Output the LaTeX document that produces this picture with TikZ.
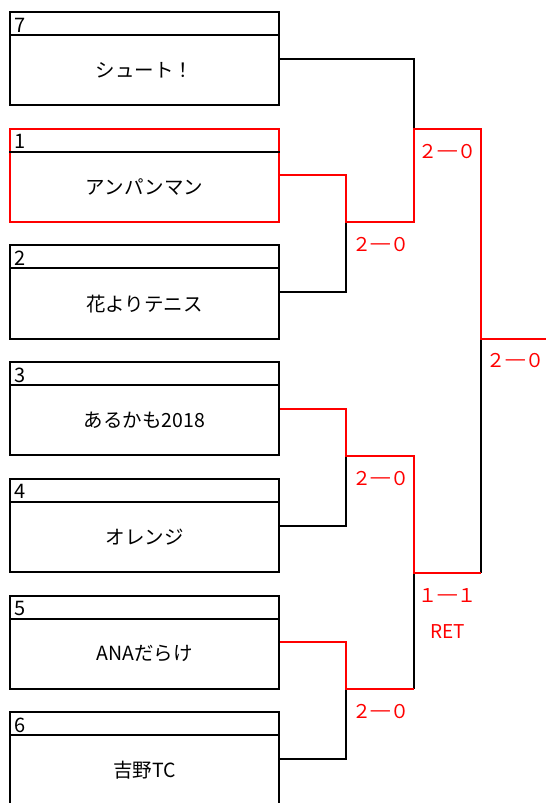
\documentclass[tikz,border=0pt]{standalone}
\usepackage{fontspec}
\setmainfont{Noto Sans CJK JP}
\usepackage{color}
\newcommand\scoredash{\kern-3.5pt\scalebox{1.4}[1]{－}\kern-3.5pt}

\begin{document}
\begin{tikzpicture}[x=1pt, y=-1pt, line width=2pt,
  team/.style={rectangle, draw, minimum width=269pt, minimum height=93.3pt, inner sep=0pt},
  seed/.style={anchor=west, inner sep=0pt, font=\fontsize{20}{20}\selectfont},
  club/.style={inner sep=0pt, font=\fontsize{19.5}{19.5}\selectfont},
  score/.style={inner sep=0pt, text=red, font=\fontsize{19}{19}\selectfont}]

\useasboundingbox (0,0) rectangle (546,803);
\clip (0,0) rectangle (546,803);

\node (t7) at (144.5,58.7) [team] {};
\node (t1) at (144.5,175.4) [team, draw=red] {};
\node (t2) at (144.5,292.1) [team] {};
\node (t3) at (144.5,408.8) [team] {};
\node (t4) at (144.5,525.5) [team] {};
\node (t5) at (144.5,642.2) [team] {};
\node (t6) at (144.5,758.9) [team] {};

\draw ([yshift=-24pt]t7.north west) -- ([yshift=-24pt]t7.north east);
\draw ([yshift=-24pt]t1.north west) -- ([yshift=-24pt]t1.north east);
\draw ([yshift=-24pt]t2.north west) -- ([yshift=-24pt]t2.north east);
\draw ([yshift=-24pt]t3.north west) -- ([yshift=-24pt]t3.north east);
\draw ([yshift=-24pt]t4.north west) -- ([yshift=-24pt]t4.north east);
\draw ([yshift=-24pt]t5.north west) -- ([yshift=-24pt]t5.north east);
\draw ([yshift=-24pt]t6.north west) -- ([yshift=-24pt]t6.north east);

\node (n7) at ([xshift=4.5pt,yshift=-14pt]t7.north west) [seed] {7};
\node (n1) at ([xshift=4.5pt,yshift=-14pt]t1.north west) [seed] {1};
\node (n2) at ([xshift=4.5pt,yshift=-14pt]t2.north west) [seed] {2};
\node (n3) at ([xshift=4.5pt,yshift=-14pt]t3.north west) [seed] {3};
\node (n4) at ([xshift=4.5pt,yshift=-14pt]t4.north west) [seed] {4};
\node (n5) at ([xshift=4.5pt,yshift=-14pt]t5.north west) [seed] {5};
\node (n6) at ([xshift=4.5pt,yshift=-14pt]t6.north west) [seed] {6};

\node (c7) at ([yshift=-11.5pt]t7.center) [club] {シュート！};
\node (c1) at ([yshift=-11.5pt]t1.center) [club] {アンパンマン};
\node (c2) at ([yshift=-11.5pt]t2.center) [club] {花よりテニス};
\node (c3) at ([yshift=-11.5pt]t3.center) [club] {あるかも2018};
\node (c4) at ([yshift=-11.5pt]t4.center) [club] {オレンジ};
\node (c5) at ([yshift=-11.5pt]t5.center) [club] {ANAだらけ};
\node (c6) at ([yshift=-11.5pt]t6.center) [club] {吉野TC};

\coordinate (q12) at (346,222);
\coordinate (q34) at (346,455.7);
\coordinate (q56) at (346,689);
\coordinate (sA) at (414,128.7);
\coordinate (sB) at (414,572.7);
\coordinate (fin) at (481,339);
\coordinate (win) at (546,339);

\draw (t2.east) -| (q12);
\draw (t7.east) -| (sA);
\draw (t4.east) -| (q34);
\draw (fin |- sB) -- (fin);
\draw (sB |- q56) -- (sB);
\draw (t6.east) -| (q56);

\draw[red] (t1.east) -| (q12) -- (sA |- q12) -- (sA) -- (fin |- sA) -- (fin) -- (win);
\draw[red] (t3.east) -| (q34) -- (sB |- q34) -- (sB) -- (fin |- sB);
\draw[red] (t5.east) -| (q56) -- (sB |- q56);

\node (r12) at ([xshift=35pt,yshift=-22.5pt]q12) [score] {２\scoredash ０};
\node (rA) at ([xshift=33.5pt,yshift=-22.5pt]sA) [score] {２\scoredash ０};
\node (rF) at ([xshift=34.5pt,yshift=-22pt]fin) [score] {２\scoredash ０};
\node (r34) at ([xshift=35pt,yshift=-23pt]q34) [score] {２\scoredash ０};
\node (rB) at ([xshift=33.5pt,yshift=-23pt]sB) [score] {１\scoredash １};
\node (ret) at ([xshift=33.5pt,yshift=-59pt]sB) [score] {RET};
\node (r56) at ([xshift=35pt,yshift=-23pt]q56) [score] {２\scoredash ０};

\end{tikzpicture}
\end{document}
